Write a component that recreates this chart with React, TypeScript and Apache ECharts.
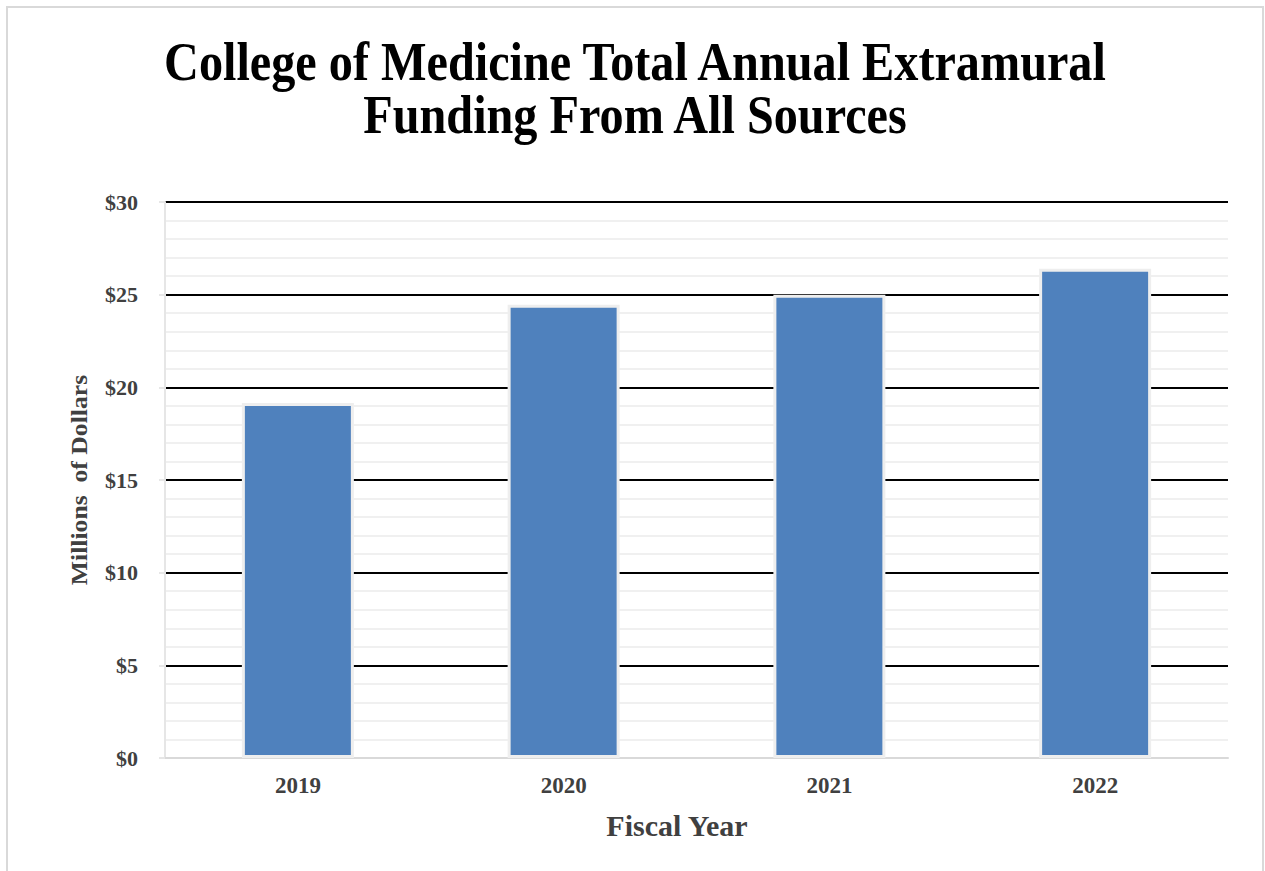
import React, { useEffect, useRef } from "react";
import * as echarts from "echarts";

const years = ["2019", "2020", "2021", "2022"];
const funding = [19.15, 24.45, 25.0, 26.4];
const titleLines = ["College of Medicine Total Annual Extramural", "Funding From All Sources"];
const yAxisTitle = "Millions  of Dollars";
const xAxisTitle = "Fiscal Year";

const FONT = '"Liberation Serif", "Times New Roman", serif';

export default function App() {
  const ref = useRef<HTMLDivElement>(null);
  useEffect(() => {
    if (!ref.current) return;
    const chart = echarts.init(ref.current, undefined, { renderer: "svg" });
    chart.setOption({
      animation: false,
      backgroundColor: "#ffffff",
      graphic: [
        {
          type: "rect",
          shape: { x: 7, y: 7, width: 1256, height: 880 },
          style: { fill: "none", stroke: "#d9d9d9", lineWidth: 2 },
          silent: true,
        },
        {
          type: "text",
          x: 635,
          y: 61,
          scaleX: 0.877,
          style: {
            text: titleLines[0],
            fontFamily: FONT,
            fontWeight: "bold",
            fontSize: 55,
            fill: "#000000",
            textAlign: "center",
            textVerticalAlign: "middle",
          },
        },
        {
          type: "text",
          x: 635,
          y: 114,
          scaleX: 0.877,
          style: {
            text: titleLines[1],
            fontFamily: FONT,
            fontWeight: "bold",
            fontSize: 55,
            fill: "#000000",
            textAlign: "center",
            textVerticalAlign: "middle",
          },
        },
        {
          type: "text",
          x: 79,
          y: 480,
          rotation: Math.PI / 2,
          scaleX: 1.07,
          style: {
            text: yAxisTitle,
            fontFamily: FONT,
            fontWeight: "bold",
            fontSize: 24,
            fill: "#404040",
            textAlign: "center",
            textVerticalAlign: "middle",
          },
        },
        {
          type: "text",
          x: 677,
          y: 825,
          style: {
            text: xAxisTitle,
            fontFamily: FONT,
            fontWeight: "bold",
            fontSize: 30,
            fill: "#404040",
            textAlign: "center",
            textVerticalAlign: "middle",
          },
        },
      ],
      grid: { left: 165, right: 37, top: 202, bottom: 113, containLabel: false },
      xAxis: {
        type: "category",
        data: years,
        axisLine: { show: true, lineStyle: { color: "#d9d9d9", width: 2 } },
        axisTick: { show: false },
        axisLabel: {
          fontFamily: FONT,
          fontWeight: "bold",
          fontSize: 23,
          color: "#404040",
          margin: 16,
        },
        splitLine: { show: false },
      },
      yAxis: {
        type: "value",
        min: 0,
        max: 30,
        interval: 5,
        axisLine: { show: true, lineStyle: { color: "#e6e6e6", width: 2 } },
        axisTick: { show: true, length: 6, lineStyle: { color: "#e6e6e6", width: 2 } },
        axisLabel: {
          fontFamily: FONT,
          fontWeight: "bold",
          fontSize: 22,
          color: "#404040",
          margin: 27,
          formatter: (v: number) => "$" + v,
        },
        splitLine: {
          show: true,
          lineStyle: {
            color: ["#d9d9d9", "#000000", "#000000", "#000000", "#000000", "#000000", "#000000"],
            width: 2,
          },
        },
        minorTick: { show: false, splitNumber: 5 },
        minorSplitLine: { show: true, lineStyle: { color: "#f0f0f0", width: 2 } },
      },
      series: [
        {
          type: "bar",
          data: funding,
          barWidth: 112,
          itemStyle: { color: "#4F81BD", borderColor: "#eeeeee", borderWidth: 3 },
        },
      ],
    });
    return () => chart.dispose();
  }, []);
  return (
    <div
      ref={ref}
      style={{ position: "absolute", left: 0, top: 0, width: 1265, height: 871 }}
    />
  );
}
